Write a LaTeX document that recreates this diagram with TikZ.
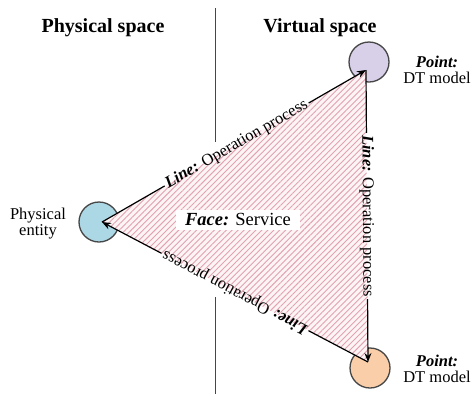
\documentclass[tikz,border=0pt]{standalone}
\usepackage{fontspec}
\setmainfont{Liberation Serif}
\usetikzlibrary{arrows.meta,patterns.meta}
\definecolor{cpurple}{RGB}{216,207,232}
\definecolor{cblue}{RGB}{172,216,230}
\definecolor{corange}{RGB}{250,206,168}
\definecolor{cedge}{RGB}{70,70,70}
\definecolor{hatchcol}{RGB}{226,162,176}
\definecolor{pinkbg}{RGB}{253,244,246}
\begin{document}
\begin{tikzpicture}[x=1pt,y=-1pt,
  titletext/.style={font=\fontsize{20}{24}\selectfont\bfseries},
  plaintext/.style={font=\fontsize{16.5}{16}\selectfont, align=center},
  facetext/.style={font=\fontsize{18.5}{22}\selectfont, fill=white, inner xsep=9pt, inner ysep=4pt},
  edgelabel/.style={font=\fontsize{16.5}{20}\selectfont, sloped, allow upside down, inner sep=2pt},
  dot/.style={circle, draw=cedge, line width=1.3pt, minimum size=40pt, inner sep=0pt},
  divider/.style={draw=cedge, line width=1pt},
  flow/.style={draw=black, line width=1.2pt},
  flowarrow/.style={flow, -{Stealth[length=9pt,width=7pt]}}
]
\useasboundingbox (0,0) rectangle (474,397);

% titles
\node[titletext] (ps) at (103,28) {Physical space};
\node[titletext] (vs) at (320,28) {Virtual space};

% divider
\coordinate (d1) at (215,8);
\coordinate (d2) at (215,142);
\coordinate (d3) at (215,297);
\coordinate (d4) at (215,394);
\draw[divider] (d1) -- (d2);
\draw[divider] (d3) -- (d4);

% circles
\node[dot, fill=cpurple] (ctop) at (369,62) {};
\node[dot, fill=cblue]   (cleft) at (99,222) {};
\node[dot, fill=corange] (cbot) at (370,368) {};

% vertices
\coordinate (T) at (366,70);
\coordinate (B) at (368,362);
\coordinate (L) at (102,222);

% face
\fill[pinkbg] (L) -- (T) -- (B) -- cycle;
\fill[pattern={Lines[angle=45,distance=4.2pt,line width=0.9pt]}, pattern color=hatchcol] (L) -- (T) -- (B) -- cycle;

% edge labels
\path (L) -- node[edgelabel, pos=0.51] (e1) {\textbf{\textit{Line:}} Operation process} (T);
\path (T) -- node[edgelabel, pos=0.5] (e2) {\textbf{\textit{Line:}} Operation process} (B);
\path (B) -- node[edgelabel, pos=0.5] (e3) {\textbf{\textit{Line:}} Operation process} (L);

% arrows
\draw[flow] (L) -- (e1);
\draw[flowarrow] (e1) -- (T);
\draw[flow] (T) -- (e2);
\draw[flowarrow] (e2) -- (B);
\draw[flow] (B) -- (e3);
\draw[flowarrow] (e3) -- (L);

% face label
\node[facetext] (face) at (238,220) {\textbf{\textit{Face:}} Service};

% point labels
\node[plaintext] (ptop) at (437,70) {\textbf{\textit{Point:}}\\DT model};
\node[plaintext] (pbot) at (437,369) {\textbf{\textit{Point:}}\\DT model};
\node[plaintext] (pent) at (38,224) {Physical\\entity};
\end{tikzpicture}
\end{document}
